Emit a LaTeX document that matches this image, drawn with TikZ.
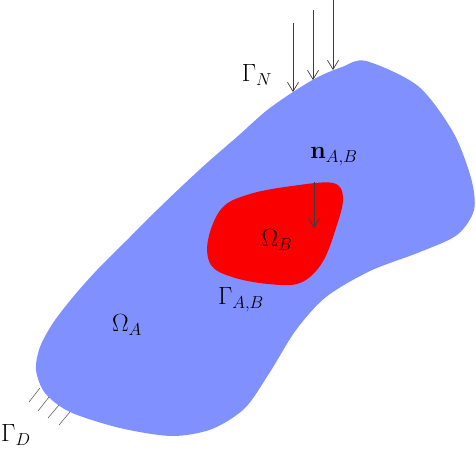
\documentclass[tikz,border=0pt]{standalone}
\usetikzlibrary{arrows.meta}
\definecolor{domA}{RGB}{128,145,255}
\definecolor{domB}{RGB}{250,0,0}
\definecolor{arr}{RGB}{60,60,60}
\tikzset{
  lab/.style={font=\fontsize{27}{31}\selectfont, inner sep=0pt},
  load/.style={draw=arr, line width=0.7pt, -{Straight Barb[length=9pt,width=11pt]}},
  hatch/.style={draw=arr!80, line width=0.6pt}
}
\begin{document}
\begin{tikzpicture}[x=1pt,y=-1pt]
\useasboundingbox (0,0) rectangle (476,460);
% domain A
\fill[domA] plot[smooth cycle, tension=0.5] coordinates {
 (366,61) (418,86) (453,132) (471,178) (474,210) (457,235) (420,252)
 (370,271) (326,297) (296,330) (270,372) (245,408) (212,429) (172,436)
 (120,428) (70,412) (45,393) (36,370) (40,347) (53,323) (73,297) (97,270)
 (127,240) (157,210) (182,186) (208,162) (238,136) (266,111) (293,92)
 (318,77) (342,67)};
% domain B
\fill[domB] plot[smooth cycle, tension=0.6] coordinates {
 (292,186) (333,183) (343,198) (336,228) (322,263) (300,283) (268,284)
 (232,277) (211,265) (208,240) (222,208) (250,194)};
% loads
\coordinate (t1s) at (293,23); \coordinate (t1e) at (293,92);
\coordinate (t2s) at (313,10); \coordinate (t2e) at (313,80);
\coordinate (t3s) at (333,0);  \coordinate (t3e) at (333,70);
\draw[load] (t1s) -- (t1e);
\draw[load] (t2s) -- (t2e);
\draw[load] (t3s) -- (t3e);
% normal
\coordinate (ns) at (314,182); \coordinate (ne) at (314,228);
\draw[load] (ns) -- (ne);
% Dirichlet hatch
\coordinate (h1a) at (40,388); \coordinate (h1b) at (29,402);
\coordinate (h2a) at (49,397); \coordinate (h2b) at (38,411);
\coordinate (h3a) at (59,405); \coordinate (h3b) at (48,418);
\coordinate (h4a) at (70,412); \coordinate (h4b) at (59,425);
\draw[hatch] (h1a) -- (h1b);
\draw[hatch] (h2a) -- (h2b);
\draw[hatch] (h3a) -- (h3b);
\draw[hatch] (h4a) -- (h4b);
% labels
\node[lab] (GN) at (257,75) {$\Gamma_N$};
\node[lab] (nAB) at (334,157) {$\mathbf{n}_{A,B}$};
\node[lab] (OB) at (277,240) {$\Omega_B$};
\node[lab] (GAB) at (241,300) {$\Gamma_{A,B}$};
\node[lab] (OA) at (127,325) {$\Omega_A$};
\node[lab, anchor=west] (GD) at (1,435) {$\Gamma_D$};
\end{tikzpicture}
\end{document}
